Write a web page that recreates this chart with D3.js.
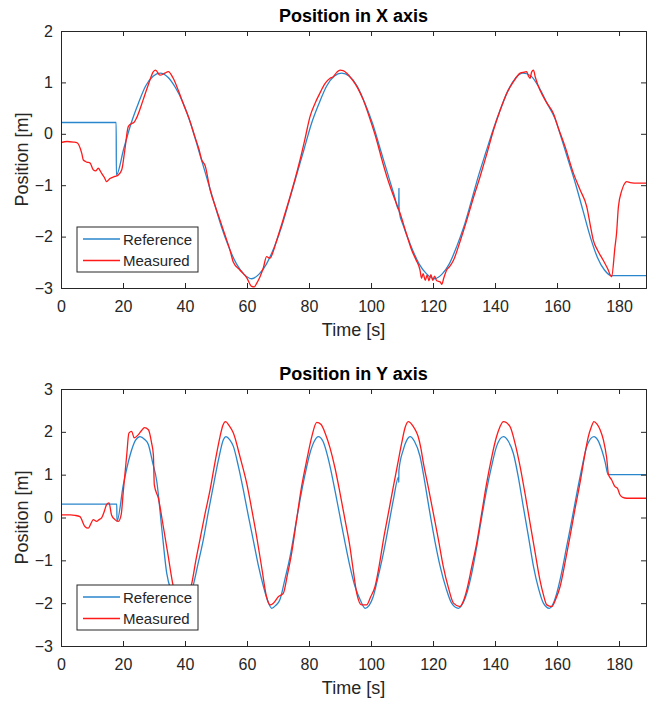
<!DOCTYPE html>
<html>
<head>
<meta charset="utf-8">
<script src="https://cdn.jsdelivr.net/npm/d3@7"></script>
<style>
  body { margin: 0; background: #fff; }
  svg text { font-family: "Liberation Sans", Arial, Helvetica, sans-serif; fill: #262626; }
</style>
</head>
<body>
<div id="chart"></div>
<script>
'use strict';

// time [s], position [m]
var refX = [[0,0.22],[17.8,0.22],[17.85,-0.8],[20.2,-0.3],[22.6,0.2],[25,0.6],[27.3,0.93],[29.7,1.12],[32,1.18],[34.5,1.1],[36.9,0.9],[39.4,0.6],[41.8,0.2],[44.3,-0.3],[46.75,-0.8],[49.2,-1.3],[51.7,-1.8],[54.1,-2.2],[56.6,-2.53],[59,-2.73],[61.5,-2.82],[63.9,-2.73],[66.3,-2.53],[68.8,-2.2],[71.2,-1.8],[73.6,-1.3],[76,-0.8],[78.4,-0.3],[80.8,0.2],[83.3,0.6],[85.7,0.93],[88.1,1.12],[90.5,1.18],[93,1.12],[95.5,0.93],[98,0.6],[100.5,0.2],[103,-0.3],[105.5,-0.8],[107.5,-1.2],[108.95,-1.48],[109,-1.06],[109.05,-1.5],[110.5,-1.8],[113,-2.2],[115.5,-2.53],[118,-2.73],[120.5,-2.82],[122.9,-2.73],[125.25,-2.53],[127.6,-2.2],[130,-1.8],[132.4,-1.3],[134.75,-0.8],[137.1,-0.35],[139.5,0.1],[141.9,0.5],[144.25,0.85],[146.6,1.08],[149,1.18],[151.5,1.13],[154.4,0.88],[156.9,0.58],[159.3,0.3],[161.5,-0.1],[163.8,-0.55],[166.1,-1.0],[168.4,-1.5],[170.7,-2.0],[173,-2.4],[175.3,-2.65],[177.6,-2.76],[189,-2.76]];

var measX = [[0,-0.17],[2,-0.15],[4,-0.16],[5.1,-0.17],[6.7,-0.38],[7.2,-0.51],[8.3,-0.55],[9.4,-0.57],[10.4,-0.7],[11.2,-0.72],[12,-0.67],[13.1,-0.77],[14,-0.85],[14.7,-0.93],[15.8,-0.87],[17.4,-0.83],[18.5,-0.8],[19.6,-0.7],[20.6,-0.31],[21.7,0.14],[22.8,0.2],[23.5,0.22],[24.3,0.3],[26.5,0.66],[28.3,0.98],[29.8,1.21],[30.5,1.24],[31.9,1.14],[33.5,1.18],[34.6,1.21],[36.2,1.08],[37.8,0.85],[39.4,0.59],[41.3,0.3],[43.2,-0.06],[44.5,-0.3],[45.4,-0.51],[46.5,-0.62],[48.1,-1.09],[49.7,-1.4],[51.3,-1.68],[52.9,-1.97],[54.5,-2.26],[55.6,-2.5],[57.7,-2.65],[59.9,-2.8],[61.5,-2.97],[62.3,-2.98],[63.2,-2.9],[64.2,-2.78],[65.3,-2.6],[66.3,-2.39],[67.4,-2.42],[68.4,-2.3],[69.6,-2.07],[71.7,-1.66],[73.9,-1.22],[75.5,-0.88],[77.1,-0.51],[78.7,-0.1],[80.3,0.33],[82,0.6],[83.5,0.79],[85.2,0.98],[86.8,1.08],[87.8,1.11],[89,1.2],[90,1.24],[91,1.23],[92.2,1.18],[94,1.05],[95.8,0.88],[97.5,0.66],[99.6,0.3],[101.8,-0.12],[103.5,-0.5],[105.1,-0.83],[107.2,-1.2],[109.4,-1.55],[111.2,-1.9],[113.1,-2.26],[114.5,-2.45],[115.8,-2.65],[116.3,-2.81],[116.8,-2.72],[117.5,-2.85],[118.1,-2.75],[118.7,-2.86],[119.3,-2.74],[119.9,-2.85],[120.5,-2.77],[121.2,-2.86],[122.3,-2.88],[122.8,-2.93],[123.5,-2.8],[124.4,-2.65],[125.4,-2.58],[126.6,-2.46],[128.7,-2.1],[130.9,-1.68],[133,-1.25],[135.2,-0.83],[137.4,-0.38],[139.5,0.07],[141.6,0.45],[143.8,0.79],[145.9,1.01],[148.1,1.18],[149.5,1.2],[150.2,1.21],[150.8,1.12],[151.3,1.08],[151.8,1.2],[152.4,1.24],[153,1.1],[154.5,0.85],[156.5,0.62],[158.8,0.4],[160.5,0.1],[162.6,-0.25],[165.3,-0.77],[167.5,-1.1],[169.6,-1.42],[170.8,-1.8],[171.7,-2.07],[173.2,-2.28],[174.9,-2.46],[176.3,-2.62],[177.6,-2.78],[178.7,-2.2],[179.2,-1.94],[179.8,-1.42],[180.9,-1.1],[182,-0.95],[182.5,-0.93],[183.6,-0.95],[186,-0.96],[189,-0.96]];

var refY = [[0,0.31],[18,0.31],[18.05,-0.09],[20.1,0.76],[22.3,1.46],[24,1.8],[25.5,1.89],[27,1.82],[28.2,1.7],[29.5,1.3],[30.9,0.84],[32.5,-0.25],[34.1,-1.3],[35.7,-1.75],[37.5,-2.05],[39,-2.12],[40.5,-2.0],[42.7,-1.57],[44.3,-1.05],[45.9,-0.52],[47.5,0.12],[49.1,0.72],[50.8,1.35],[52.4,1.82],[53.2,1.89],[54.4,1.82],[55.6,1.66],[57.2,1.2],[58.8,0.65],[60.4,0.05],[62,-0.52],[63.6,-1.1],[65.3,-1.61],[66.7,-1.95],[68,-2.12],[69.3,-2.05],[70.6,-1.92],[72.2,-1.45],[73.9,-0.91],[75.5,-0.25],[77.1,0.41],[78.7,1.0],[80.3,1.5],[81.7,1.78],[83,1.89],[84.5,1.78],[86.8,1.19],[88.4,0.62],[90,0.02],[91.6,-0.58],[93.2,-1.14],[94.8,-1.6],[96.5,-1.92],[98.1,-2.12],[99.4,-2.05],[100.7,-1.85],[102.3,-1.38],[104,-0.83],[105.6,-0.22],[107.2,0.41],[108.9,0.95],[108.95,0.82],[109,1.1],[110.4,1.58],[111.5,1.8],[112.6,1.89],[114,1.78],[115.8,1.43],[117.4,0.8],[119,0.1],[120.6,-0.55],[122.3,-1.14],[124.2,-1.65],[126,-2.0],[128.2,-2.12],[129.5,-2.02],[130.9,-1.77],[132.5,-1.3],[134.1,-0.68],[135.7,0.0],[137.3,0.65],[138.9,1.2],[140.5,1.66],[142.7,1.89],[144.3,1.78],[145.9,1.5],[147.5,0.95],[149.1,0.26],[150.8,-0.45],[152.4,-1.14],[154,-1.65],[155.6,-2.0],[157.5,-2.12],[158.7,-2.02],[159.9,-1.77],[161.5,-1.28],[163.1,-0.68],[164.8,-0.05],[166.4,0.57],[168,1.15],[169.6,1.66],[171.9,1.89],[173.2,1.8],[174.4,1.58],[175.5,1.3],[176.5,1.0],[189,1.0]];

var measY = [[0,0.06],[3,0.06],[4.5,0.05],[6.1,0.02],[7.7,-0.21],[8.8,-0.25],[9.6,-0.15],[10.4,-0.05],[11.5,-0.09],[12.3,-0.05],[13.1,-0.01],[14,0.15],[14.7,0.3],[15.5,0.34],[16.3,0.06],[17.4,-0.05],[18.5,-0.09],[19.4,0.06],[20.1,0.61],[21.2,1.46],[21.9,1.97],[22.8,2.01],[23.6,1.86],[24.9,1.93],[26,2.03],[26.9,2.1],[28.2,2.05],[29.2,1.75],[29.8,1.46],[30.1,0.76],[31.4,0.45],[33,-0.21],[34.6,-0.91],[36,-1.53],[37.5,-1.95],[39,-2.05],[40.5,-1.9],[42.2,-1.53],[43.5,-1.0],[44.8,-0.52],[46.5,0.1],[48.1,0.65],[49.7,1.3],[51.3,1.89],[52.2,2.15],[53.1,2.24],[54.2,2.15],[55.6,1.97],[57.8,1.4],[59.9,0.8],[61.5,0.2],[63.1,-0.44],[64.7,-1.15],[66.3,-1.85],[67.4,-2.04],[68.5,-2.0],[70.1,-1.85],[71.7,-1.77],[73,-1.35],[74.4,-0.83],[76,-0.05],[77.6,0.72],[79.3,1.35],[80.9,1.89],[82.5,2.22],[83.9,2.17],[85.3,1.95],[86.8,1.62],[88.4,1.15],[90,0.57],[91.6,-0.05],[93.2,-0.68],[94.3,-1.25],[95.4,-1.77],[97,-2.04],[98.6,-2.04],[99.9,-1.85],[101.3,-1.61],[102.7,-1.1],[104,-0.52],[105.6,0.1],[107.2,0.72],[108.6,1.25],[109.9,1.74],[111,2.1],[112,2.24],[113.6,2.13],[114.6,2.0],[115.2,1.89],[116,1.65],[116.9,1.27],[118.5,0.7],[120.1,0.1],[121.7,-0.5],[123.3,-1.14],[125,-1.65],[126.6,-2.0],[128.7,-2.08],[129.8,-1.95],[130.9,-1.69],[132.5,-1.15],[134.1,-0.6],[135.7,0.1],[137.3,0.8],[138.9,1.4],[140.5,1.89],[141.6,2.12],[142.7,2.24],[144.8,2.13],[146.4,1.75],[148.1,1.19],[149.7,0.55],[151.3,-0.13],[152.9,-0.8],[154.5,-1.46],[155.6,-1.8],[156.7,-2.04],[158.3,-2.08],[159.6,-1.9],[161,-1.61],[162.6,-1.05],[164.2,-0.44],[165.8,0.2],[167.4,0.8],[168.8,1.4],[170.1,1.89],[171,2.1],[171.9,2.24],[172.9,2.18],[173.9,2.05],[175,1.8],[176,1.4],[176.6,1.0],[177.6,0.88],[178.7,0.72],[179.5,0.68],[180.3,0.53],[181.2,0.47],[182.5,0.45],[189,0.45]];

var timeTicks = [0, 20, 40, 60, 80, 100, 120, 140, 160, 180];
var xPosTicks = [-3, -2, -1, 0, 1, 2];
var yPosTicks = [-3, -2, -1, 0, 1, 2, 3];
var seriesNames = ['Reference', 'Measured'];
var seriesColors = ['#2a86cc', '#ff1a1a'];

var width = 651, height = 702;

var svg = d3.select('#chart')
    .append('svg')
    .attr('width', width)
    .attr('height', height);

var panels = [
    { title: 'Position in X axis', ref: refX, meas: measX, yDomain: [-3, 2], yTicks: xPosTicks, top: 31, bottom: 288 },
    { title: 'Position in Y axis', ref: refY, meas: measY, yDomain: [-3, 3], yTicks: yPosTicks, top: 389, bottom: 646 }
];

var left = 61, right = 646;

panels.forEach(function(p, i) {
    var x = d3.scaleLinear().domain([0, 188.7]).range([left, right]);
    var y = d3.scaleLinear().domain(p.yDomain).range([p.bottom, p.top]);
    var g = svg.append('g');

    g.append('clipPath').attr('id', 'clip' + i)
        .append('rect')
        .attr('x', left).attr('y', p.top)
        .attr('width', right - left).attr('height', p.bottom - p.top);

    var line = d3.line()
        .x(function(d) { return x(d[0]); })
        .y(function(d) { return y(d[1]); })
        .curve(d3.curveMonotoneX);

    [p.ref, p.meas].forEach(function(data, k) {
        g.append('path')
            .datum(data)
            .attr('clip-path', 'url(#clip' + i + ')')
            .attr('fill', 'none')
            .attr('stroke', seriesColors[k])
            .attr('stroke-width', 1.3)
            .attr('stroke-linejoin', 'round')
            .attr('d', line);
    });

    // axes, MATLAB style inward ticks on all four sides
    var tick = 5;
    var axB = g.append('g').attr('transform', 'translate(0,' + p.bottom + ')')
        .call(d3.axisBottom(x).tickValues(timeTicks).tickSize(-tick).tickPadding(13));
    var axT = g.append('g').attr('transform', 'translate(0,' + p.top + ')')
        .call(d3.axisTop(x).tickValues(timeTicks).tickSize(-tick).tickFormat(''));
    var axL = g.append('g').attr('transform', 'translate(' + left + ',0)')
        .call(d3.axisLeft(y).tickValues(p.yTicks).tickSize(-tick).tickPadding(8).tickFormat(d3.format('d')));
    var axR = g.append('g').attr('transform', 'translate(' + right + ',0)')
        .call(d3.axisRight(y).tickValues(p.yTicks).tickSize(-tick).tickFormat(''));

    [axB, axT, axL, axR].forEach(function(a) {
        a.select('.domain').attr('stroke', '#262626').attr('stroke-width', 1);
        a.selectAll('.tick line').attr('stroke', '#262626');
        a.selectAll('.tick text')
            .attr('font-size', 16)
            .attr('fill', '#262626')
            .style('font-family', '"Liberation Sans", Arial, sans-serif');
    });
    axB.selectAll('.tick text').attr('dy', '0.71em');

    g.append('text')
        .attr('x', (left + right) / 2)
        .attr('y', p.top - 9)
        .attr('text-anchor', 'middle')
        .attr('font-size', 18)
        .attr('font-weight', 'bold')
        .style('fill', '#000')
        .text(p.title);

    g.append('text')
        .attr('x', (left + right) / 2)
        .attr('y', p.bottom + 48)
        .attr('text-anchor', 'middle')
        .attr('font-size', 18)
        .text('Time [s]');

    g.append('text')
        .attr('transform', 'translate(28,' + ((p.top + p.bottom) / 2) + ') rotate(-90)')
        .attr('text-anchor', 'middle')
        .attr('font-size', 18)
        .text('Position [m]');

    // legend
    var lx = 77, ly = p.bottom - 61;
    var leg = g.append('g').attr('transform', 'translate(' + lx + ',' + ly + ')');
    leg.append('rect')
        .attr('width', 121).attr('height', 45)
        .attr('fill', '#fff')
        .attr('stroke', '#262626').attr('stroke-width', 1);
    seriesNames.forEach(function(name, k) {
        var cy = 12 + k * 21.5;
        leg.append('line')
            .attr('x1', 6).attr('x2', 43)
            .attr('y1', cy).attr('y2', cy)
            .attr('stroke', seriesColors[k]).attr('stroke-width', 1.3);
        leg.append('text')
            .attr('x', 46).attr('y', cy + 5.5)
            .attr('font-size', 15)
            .text(name);
    });
});
</script>
</body>
</html>
